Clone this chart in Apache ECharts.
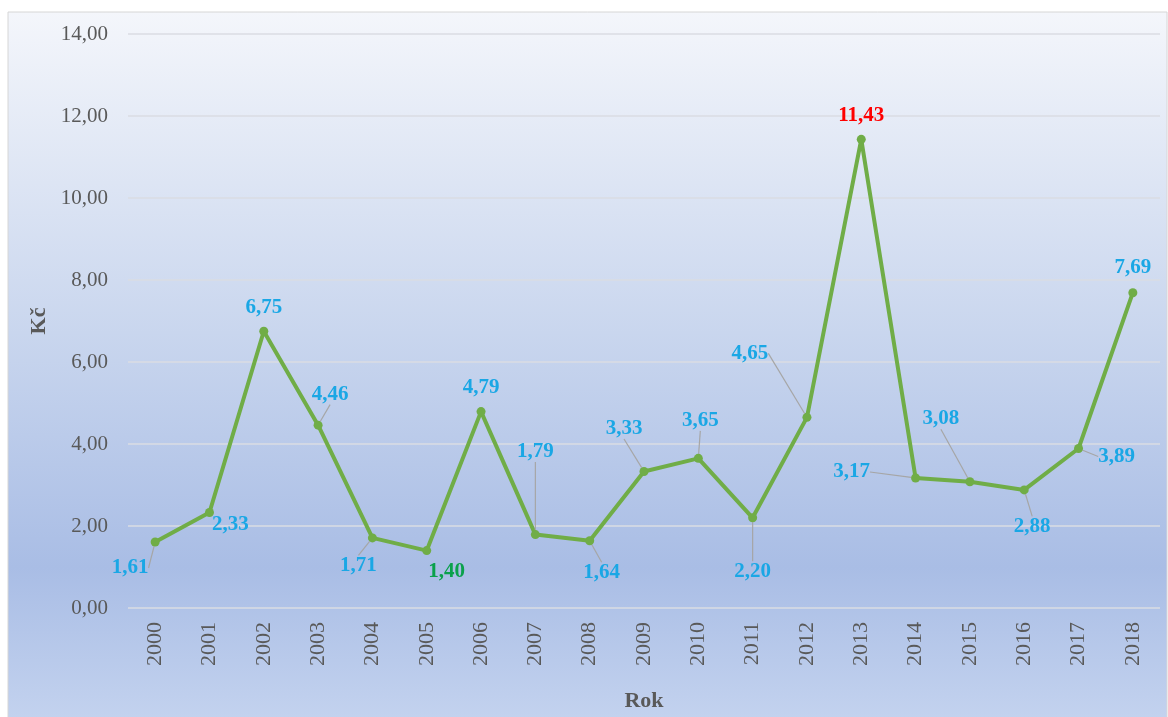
<!DOCTYPE html>
<html>
<head>
<meta charset="utf-8">
<script src="https://cdn.jsdelivr.net/npm/echarts@6.0.0/dist/echarts.min.js"></script>
<style>
  html, body { margin: 0; padding: 0; background: #fff; }
  #chart { width: 1168px; height: 717px; }
</style>
</head>
<body>
<div id="chart"></div>
<script>
const years = ['2000','2001','2002','2003','2004','2005','2006','2007','2008','2009',
               '2010','2011','2012','2013','2014','2015','2016','2017','2018'];
const values = [1.61, 2.33, 6.75, 4.46, 1.71, 1.40, 4.79, 1.79, 1.64, 3.33,
                3.65, 2.20, 4.65, 11.43, 3.17, 3.08, 2.88, 3.89, 7.69];
const yTicks = [0, 2, 4, 6, 8, 10, 12, 14];

// label offsets (px) from each point, and whether a leader line is drawn
const labelShift = [
    [-25, 26, true], [21, 12, false], [0, -24, false], [12, -31, true], [-14, 28, true],
    [20, 21, false], [0, -24, false], [0, -83, true], [12, 32, true], [-20, -43, true],
    [2, -38, true], [0, 54, true], [-57, -64, true], [0, -24, false], [-64, -6, true],
    [-29, -63, true], [8, 37, true], [38, 8, true], [0, -25, false]
];

const blue = '#1AA7E5';
const fmt = v => v.toFixed(2).replace('.', ',');

const chart = echarts.init(document.getElementById('chart'));

const data = values.map((v, i) => {
    let color = blue;
    if (i === 5) color = '#0AA14B';
    if (i === 13) color = '#FF0000';
    return {
        value: v,
        label: { color: color },
        labelLine: { show: labelShift[i][2] }
    };
});

chart.setOption({
    backgroundColor: '#ffffff',
    graphic: [{
        type: 'rect',
        silent: true,
        z: -10,
        shape: { x: 8, y: 12, width: 1159, height: 712 },
        style: {
            stroke: '#d6d6d6',
            lineWidth: 1,
            fill: new echarts.graphic.LinearGradient(0, 0, 0, 1, [
                { offset: 0, color: '#f4f6fb' },
                { offset: 0.45, color: '#c9d6ee' },
                { offset: 0.78, color: '#a9bde5' },
                { offset: 1, color: '#c4d3ef' }
            ])
        }
    }],
    grid: { left: 128, right: 8, top: 34, bottom: 107 },
    xAxis: {
        type: 'category',
        data: years,
        name: 'Rok',
        nameLocation: 'middle',
        nameGap: 82,
        nameTextStyle: { fontFamily: 'Liberation Serif', fontWeight: 'bold', fontSize: 22, color: '#595959' },
        axisLine: { show: false },
        axisTick: { show: false },
        axisLabel: {
            rotate: 90,
            margin: 14,
            fontFamily: 'Liberation Serif',
            fontSize: 22,
            color: '#595959'
        }
    },
    yAxis: {
        type: 'value',
        min: yTicks[0],
        max: yTicks[yTicks.length - 1],
        interval: 2,
        name: 'Kč',
        nameLocation: 'middle',
        nameGap: 78,
        nameRotate: 90,
        nameTextStyle: { fontFamily: 'Liberation Serif', fontWeight: 'bold', fontSize: 22, color: '#595959' },
        axisLine: { show: false },
        axisTick: { show: false },
        axisLabel: {
            margin: 20,
            fontFamily: 'Liberation Serif',
            fontSize: 21,
            color: '#595959',
            formatter: v => fmt(v)
        },
        splitLine: { lineStyle: { color: '#dadde3', width: 1.5 } }
    },
    series: [{
        type: 'line',
        data: data,
        symbol: 'circle',
        symbolSize: 9,
        lineStyle: { color: '#70AD47', width: 4 },
        itemStyle: { color: '#70AD47' },
        label: {
            show: true,
            position: 'inside',
            fontFamily: 'Liberation Serif',
            fontWeight: 'bold',
            fontSize: 21,
            formatter: p => fmt(p.value)
        },
        labelLine: {
            lineStyle: { color: '#a6a6a6', width: 1.2 }
        },
        labelLayout: p => ({
            dx: labelShift[p.dataIndex][0],
            dy: labelShift[p.dataIndex][1]
        }),
        animation: false
    }]
});
</script>
</body>
</html>
